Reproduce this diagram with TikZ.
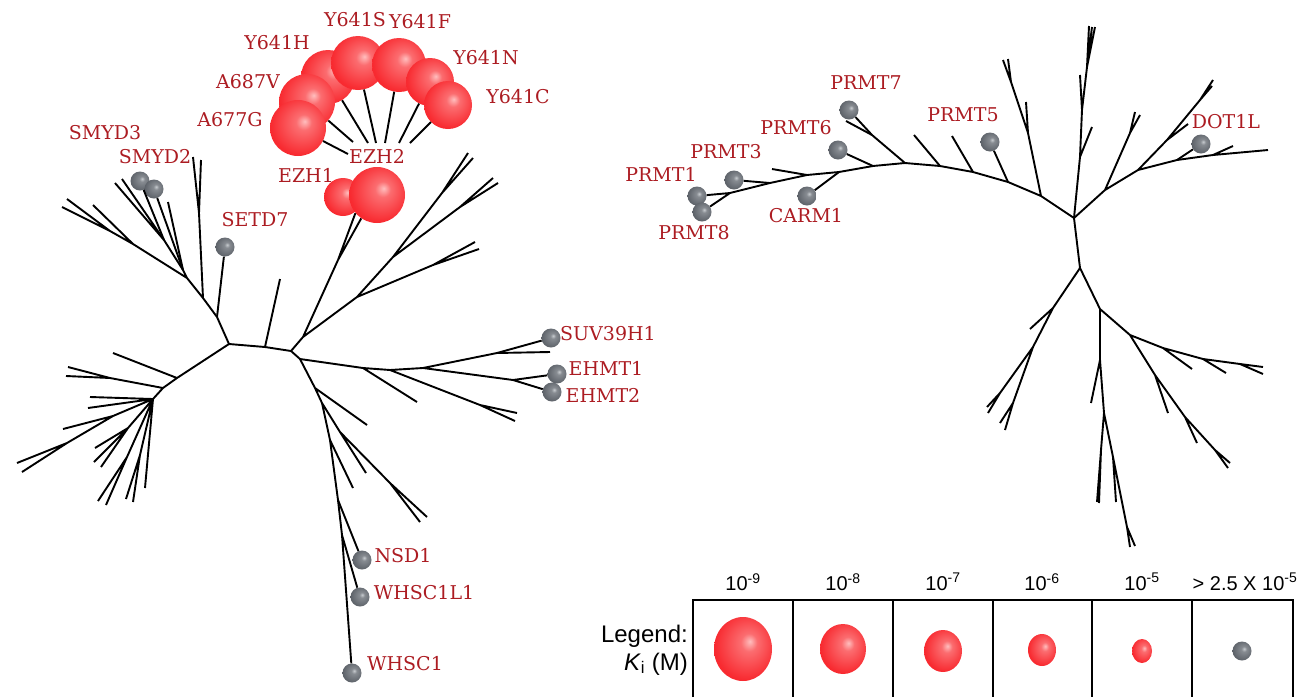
\documentclass[tikz,border=0pt]{standalone}
\usepackage{fontspec}
\setmainfont{DejaVu Serif}
\newfontfamily\legendfont{Liberation Sans}
\usetikzlibrary{shapes.geometric, positioning}

\definecolor{ballred}{RGB}{248,42,48}
\definecolor{ballpink}{RGB}{255,190,190}
\definecolor{ballgrey}{RGB}{92,97,104}
\definecolor{ballsilver}{RGB}{200,204,208}
\definecolor{labelred}{RGB}{172,28,34}

\pgfdeclareradialshading{redball}{\pgfqpoint{6bp}{6bp}}{%
  color(0bp)=(ballpink); color(7bp)=(ballred!55!ballpink);
  color(27bp)=(ballred); color(50bp)=(ballred)}
\pgfdeclareradialshading{greyball}{\pgfqpoint{6bp}{6bp}}{%
  color(0bp)=(ballsilver); color(7bp)=(ballgrey!60!ballsilver);
  color(28bp)=(ballgrey); color(50bp)=(ballgrey)}

\begin{document}
\begin{tikzpicture}[
    x=1pt, y=-1pt,
    branch/.style={line width=1.9pt},
    hit/.style={circle, inner sep=0pt, shading=redball, minimum size=#1},
    keyhit/.style 2 args={ellipse, inner sep=0pt, shading=redball,
        minimum width=#1, minimum height=#2},
    miss/.style={circle, inner sep=0pt, shading=greyball, minimum size=19pt},
    gene/.style={text=labelred, font=\fontsize{19}{21}\selectfont, inner sep=0pt},
    keytext/.style={font=\legendfont\fontsize{20}{22}\selectfont, inner sep=0pt},
    keyhead/.style={font=\legendfont\fontsize{24}{26}\selectfont, inner sep=0pt}
]
\useasboundingbox (0,0) rectangle (1310,697);

% -------------------------
% Left tree (SET domain)
% -------------------------

% backbone
\coordinate (lA) at (229,344);
\coordinate (lB) at (265,347);
\coordinate (lC) at (291,351);
\draw[branch] (lA) -- (lB) -- (lC) (lB) -- (280,279);

% upper left arm (SMYD, SETD7)
\coordinate (lD) at (217,317);
\coordinate (lE) at (203,298);
\coordinate (lF) at (187,278);
\coordinate (lG) at (133,244);
\coordinate (lH) at (110,231);
\coordinate (lS) at (183,270);
\coordinate (lS1) at (164,240);
\coordinate (lV1) at (199,213);
\draw[branch] (lA) -- (lD) -- (lE) -- (lF) -- (lG) -- (lH) -- (62,207)
    (lH) -- (67,199) (lG) -- (93,205)
    (lE) -- (lV1) -- (201,160) (lV1) -- (193,157)
    (lF) -- (lS) -- (168,202) (lS) -- (lS1) -- (115,183) (lS1) -- (122,179);

% lower left arm
\coordinate (lI) at (177,378);
\coordinate (lJ) at (163,388);
\coordinate (lK) at (110,378);
\coordinate (lL) at (153,399);
\coordinate (lM) at (113,416);
\coordinate (lN) at (67,443);
\coordinate (lO) at (128,428);
\coordinate (lP) at (127,457);
\coordinate (lQ) at (140,455);
\draw[branch] (lA) -- (lI) -- (lJ) -- (lL) (lI) -- (113,353)
    (lJ) -- (lK) -- (68,367) (lK) -- (66,376)
    (lL) -- (90,397) (lL) -- (88,408)
    (lL) -- (lM) -- (63,429) (lM) -- (lN) -- (17,463) (lN) -- (22,472)
    (lL) -- (lO) -- (95,448) (lO) -- (94,462) (lO) -- (101,467)
    (lL) -- (lP) -- (98,501) (lP) -- (106,505)
    (lL) -- (lQ) -- (126,499) (lQ) -- (133,502)
    (lL) -- (145,488);

% upper right arm (EZH)
\coordinate (lR) at (303,337);
\coordinate (lT) at (338,260);
\coordinate (lU) at (357,297);
\coordinate (lV) at (393,257);
\coordinate (lW) at (442,193);
\coordinate (lX) at (460,207);
\coordinate (lY) at (433,265);
\draw[branch] (lC) -- (lR) -- (lT) (lR) -- (lU) -- (lV) -- (lW) -- (468,153)
    (lW) -- (473,158) (lV) -- (lX) -- (493,178) (lX) -- (498,183)
    (lU) -- (lY) -- (475,242) (lY) -- (479,249);

% right arm (SUV39H1, EHMT)
\coordinate (lZ) at (300,359);
\coordinate (r1) at (363,368);
\coordinate (r2) at (390,370);
\coordinate (r3) at (480,405);
\coordinate (r4) at (423,368);
\coordinate (r5) at (497,353);
\coordinate (r6) at (513,380);
\draw[branch] (lC) -- (lZ) -- (r1) -- (r2) -- (r4) (r1) -- (417,402)
    (r2) -- (r3) -- (517,413) (r3) -- (515,421)
    (r4) -- (r5) -- (550,352) (r4) -- (r6);

% lower arm (NSD1, WHSC1)
\coordinate (d1) at (315,388);
\coordinate (d2) at (322,403);
\coordinate (d3) at (340,432);
\coordinate (d4) at (390,483);
\coordinate (d5) at (330,440);
\coordinate (d6) at (338,500);
\coordinate (d7) at (342,535);
\draw[branch] (lZ) -- (d1) -- (d2) -- (d5) -- (d6) -- (d7) (d1) -- (367,425)
    (d2) -- (d3) -- (366,473) (d3) -- (d4) -- (427,517) (d4) -- (420,522)
    (d5) -- (353,488);

% -------------------------
% Right tree (DOT1L / PRMT)
% -------------------------

% PRMT arm
\coordinate (p0) at (730,193);
\coordinate (p1) at (770,183);
\coordinate (p2) at (807,175);
\coordinate (p3) at (839,172);
\coordinate (p4) at (873,166);
\coordinate (p5) at (905,163);
\coordinate (p6) at (940,166);
\coordinate (p7) at (973,172);
\coordinate (p8) at (1008,182);
\coordinate (p9) at (1041,196);
\coordinate (hub) at (1074,218);
\coordinate (pp7) at (872,135);
\coordinate (q1) at (1028,133);
\coordinate (q2) at (1011,82);
\draw[branch] (p0) -- (p1) -- (p2) -- (p3) -- (p4) -- (p5) -- (p6) -- (p7)
    -- (p8) -- (p9) -- (hub)
    (p2) -- (772,169) (p5) -- (pp7) (pp7) -- (846,121)
    (p6) -- (914,135) (p7) -- (952,136)
    (p9) -- (q1) -- (q2) -- (1003,60) (q2) -- (1008,59) (q1) -- (1026,102);

% upper arm
\coordinate (h1) at (1080,157);
\coordinate (h2) at (1082,110);
\coordinate (h3) at (1087,67);
\draw[branch] (hub) -- (h1) -- (h2) -- (h3) -- (1089,26) (h3) -- (1092,27)
    (h3) -- (1095,27) (h2) -- (1080,75) (h1) -- (1092,127);

% upper right arm (DOT1L)
\coordinate (k1) at (1105,190);
\coordinate (k1a) at (1130,133);
\coordinate (k2) at (1138,170);
\coordinate (k2a) at (1167,140);
\coordinate (k2b) at (1200,100);
\coordinate (k4) at (1177,160);
\coordinate (k5) at (1213,155);
\draw[branch] (hub) -- (k1) -- (k2) -- (k4) -- (k5) -- (1268,150)
    (k5) -- (1233,146)
    (k1) -- (k1a) -- (1135,112) (k1a) -- (1140,115)
    (k2) -- (k2a) -- (k2b) -- (1213,80) (k2b) -- (1212,86) (k2a) -- (1188,124);

% lower arms
\coordinate (g0) at (1080,268);
\coordinate (g1) at (1053,308);
\coordinate (g2) at (1033,347);
\coordinate (g3) at (1000,393);
\coordinate (g3b) at (1013,403);
\coordinate (g4) at (1100,309);
\coordinate (g5) at (1100,360);
\coordinate (g6) at (1104,413);
\coordinate (g7) at (1101,450);
\coordinate (g8) at (1113,457);
\coordinate (g9) at (1127,527);
\coordinate (g10) at (1130,335);
\coordinate (g11) at (1163,348);
\coordinate (g12) at (1203,359);
\coordinate (g13) at (1240,364);
\coordinate (g14) at (1155,375);
\coordinate (g15) at (1185,417);
\coordinate (g16) at (1215,450);
\draw[branch] (hub) -- (g0) -- (g1) -- (g2) -- (g3) -- (987,407) (g3) -- (988,413)
    (g1) -- (1030,329) (g2) -- (g3b) -- (1000,423) (g3b) -- (1005,430)
    (g0) -- (g4) -- (g5) -- (g6) -- (g7) -- (1097,502) (g7) -- (1099,503)
    (g5) -- (1091,403) (g6) -- (g8) -- (1116,502) (g8) -- (g9) -- (1130,547)
    (g9) -- (1135,546)
    (g4) -- (g10) -- (g11) -- (g12) -- (g13) -- (1263,367) (g13) -- (1263,374)
    (g11) -- (1192,369) (g12) -- (1226,373)
    (g10) -- (g14) -- (g15) -- (g16) -- (1228,468) (g16) -- (1230,463)
    (g14) -- (1168,413) (g15) -- (1197,443);

% -------------------------
% Inhibitor balls
% -------------------------

% EZH2 mutants
\node[hit=54pt] (y641h) at (328,77) {};
\node[hit=54pt] (y641s) at (358,63) {};
\node[hit=54pt] (y641f) at (399,65) {};
\node[hit=48pt] (y641n) at (430,82) {};
\node[hit=48pt] (y641c) at (448,105) {};
\node[hit=56pt] (a687v) at (307,102) {};
\node[hit=56pt] (a677g) at (298,128) {};

% EZH1
\node[hit=38pt] (ezh1a) at (343,197) {};
\node[hit=56pt] (ezh1b) at (377,195) {};

% inactive
\node[miss] (smyd3) at (140,181) {};
\node[miss] (smyd2) at (154,189) {};
\node[miss] (setd7) at (225,247) {};
\node[miss] (suv39h1) at (551,338) {};
\node[miss] (ehmt1) at (557,374) {};
\node[miss] (ehmt2) at (552,392) {};
\node[miss] (nsd1) at (362,560) {};
\node[miss] (whsc1l1) at (360,597) {};
\node[miss] (whsc1) at (352,673) {};
\node[miss] (prmt7) at (849,110) {};
\node[miss] (prmt6) at (838,150) {};
\node[miss] (prmt3) at (734,180) {};
\node[miss] (prmt1) at (697,196) {};
\node[miss] (prmt8) at (702,212) {};
\node[miss] (carm1) at (807,196) {};
\node[miss] (prmt5) at (990,142) {};
\node[miss] (dot1l) at (1201,144) {};

% stems
\coordinate (e1) at (348,154);
\coordinate (e2) at (353,142);
\coordinate (e3) at (368,143);
\coordinate (e4) at (376,143);
\coordinate (e5) at (385,143);
\coordinate (e6) at (399,143);
\coordinate (e7) at (410,143);
\draw[branch] (e1) -- (a677g) (e2) -- (a687v) (e3) -- (y641h) (e4) -- (y641s)
    (e5) -- (y641f) (e6) -- (y641n) (e7) -- (y641c)
    (lT) -- (ezh1b.220) (lT) -- (ezh1b.236)
    (lS1) -- (smyd3) (lS) -- (smyd2) (lD) -- (setd7)
    (r5) -- (suv39h1) (r6) -- (ehmt1) (r6) -- (ehmt2)
    (d6) -- (nsd1) (d7) -- (whsc1l1) (d7) -- (whsc1)
    (pp7) -- (prmt7) (p4) -- (prmt6) (p1) -- (prmt3) (p0) -- (prmt1)
    (p0) -- (prmt8) (p3) -- (carm1) (p8) -- (prmt5) (k4) -- (dot1l);

% -------------------------
% Labels
% -------------------------
\node[gene] (y641stxt) at (355,20) {Y641S};
\node[gene] (y641ftxt) at (420,22) {Y641F};
\node[gene] (y641htxt) at (277,43) {Y641H};
\node[gene] (y641ntxt) at (486,58) {Y641N};
\node[gene] (a687vtxt) at (248,82) {A687V};
\node[gene] (y641ctxt) at (518,97) {Y641C};
\node[gene] (a677gtxt) at (230,120) {A677G};
\node[gene] (ezh2txt) at (377,156) {EZH2};
\node[gene] (ezh1txt) at (306,175) {EZH1};
\node[gene] (smyd3txt) at (105,133) {SMYD3};
\node[gene] (smyd2txt) at (155,157) {SMYD2};
\node[gene] (setd7txt) at (255,220) {SETD7};
\node[gene] (suv39h1txt) at (608,334) {SUV39H1};
\node[gene] (ehmt1txt) at (606,368) {EHMT1};
\node[gene] (ehmt2txt) at (603,395) {EHMT2};
\node[gene] (nsd1txt) at (403,556) {NSD1};
\node[gene] (whsc1l1txt) at (424,593) {WHSC1L1};
\node[gene] (whsc1txt) at (405,664) {WHSC1};
\node[gene] (prmt7txt) at (866,83) {PRMT7};
\node[gene] (prmt6txt) at (796,128) {PRMT6};
\node[gene] (prmt3txt) at (726,152) {PRMT3};
\node[gene] (prmt1txt) at (661,174) {PRMT1};
\node[gene] (prmt8txt) at (694,233) {PRMT8};
\node[gene] (carm1txt) at (806,216) {CARM1};
\node[gene] (prmt5txt) at (963,115) {PRMT5};
\node[gene] (dot1ltxt) at (1226,122) {DOT1L};

% -------------------------
% Legend
% -------------------------
\draw[line width=1.6pt] (693,697) -- (693,600) -- (1293,600) -- (1293,697);
\foreach \xx in {793,893,993,1092,1192}
    \draw[line width=1.6pt] (\xx,600) -- (\xx,697);

\node[keyhead, anchor=east] (legendtxt) at (688,636) {Legend:};
\node[keyhead, anchor=east] (kitxt) at (688,664) {\textit{K}\textsubscript{i} (M)};

\node[keytext] (key9) at (743,582) {10\textsuperscript{-9}};
\node[keytext] (key8) at (843,582) {10\textsuperscript{-8}};
\node[keytext] (key7) at (943,582) {10\textsuperscript{-7}};
\node[keytext] (key6) at (1042,582) {10\textsuperscript{-6}};
\node[keytext] (key5) at (1142,582) {10\textsuperscript{-5}};
\node[keytext] (keyx) at (1245,582) {> 2.5 X 10\textsuperscript{-5}};

\node[keyhit={58pt}{64pt}] (ball9) at (743,649) {};
\node[keyhit={46pt}{50pt}] (ball8) at (843,649) {};
\node[keyhit={38pt}{42pt}] (ball7) at (943,651) {};
\node[keyhit={28pt}{32pt}] (ball6) at (1042,650) {};
\node[keyhit={20pt}{24pt}] (ball5) at (1142,651) {};
\node[miss] (ballx) at (1242,651) {};

\end{tikzpicture}
\end{document}
